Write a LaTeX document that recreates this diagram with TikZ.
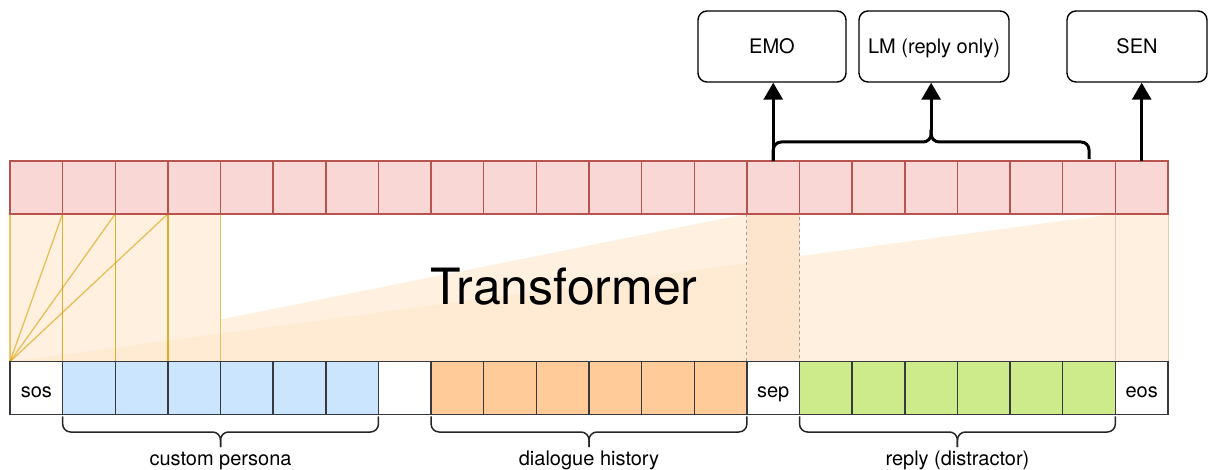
\documentclass[tikz,border=0pt]{standalone}
\usepackage{fontspec}
\setmainfont{TeX Gyre Heros}
\usetikzlibrary{arrows.meta,calc,backgrounds}
\definecolor{topfill}{HTML}{F8D7D5}
\definecolor{topdraw}{HTML}{B85450}
\definecolor{bluefill}{HTML}{CCE5FF}
\definecolor{orangefill}{HTML}{FFCC99}
\definecolor{greenfill}{HTML}{CDEB8B}
\definecolor{celldraw}{HTML}{36393D}
\definecolor{trfill}{HTML}{FFE6CC}
\definecolor{trline}{HTML}{D99E00}
\definecolor{sepfill}{HTML}{FDE4CC}
\definecolor{sepdraw}{HTML}{A8A098}
\definecolor{eosdraw}{HTML}{E6CCAE}
\newcommand\lblfont{\fontsize{20}{24}\selectfont}
\newcommand\bigfont{\fontsize{50}{60}\selectfont}
\tikzset{
  cell/.style={minimum width=52.636pt, minimum height=52.636pt, inner sep=0pt, outer sep=0pt,
    line width=1.5pt, font=\lblfont, text height=18pt, text depth=0pt},
  topcell/.style={cell, draw=topdraw, fill=topfill},
  wcell/.style={cell, draw=celldraw, fill=white},
  bluecell/.style={cell, draw=celldraw, fill=bluefill},
  orangecell/.style={cell, draw=celldraw, fill=orangefill},
  greencell/.style={cell, draw=celldraw, fill=greenfill},
  headbox/.style={draw=black, line width=1.4pt, rounded corners=9pt, minimum height=71pt,
    inner sep=0pt, font=\lblfont, text height=14pt, text depth=0pt},
  arr/.style={line width=3pt, -{Triangle[width=19pt,length=17pt]}},
  thickbrace/.style={line width=3pt, rounded corners=8pt},
  thinbrace/.style={line width=1.5pt, draw=black!85, rounded corners=8pt},
  braceLabel/.style={font=\lblfont, anchor=base, inner sep=0pt},
  trregion/.style={fill=trfill, fill opacity=0.6, draw=none},
  colline/.style={draw=trline, draw opacity=0.55, line width=1.5pt},
}
\begin{document}
\begin{tikzpicture}[x=1pt,y=-1pt]
\useasboundingbox (0,0) rectangle (1210,470);

% top output cells
\foreach \i in {0,...,21}
  \node[topcell] (t\i) at ({10+52.636*(\i+0.5)},187.5) {};

% bottom input cells
\node[wcell] (b0) at ({10+52.636*0.5},388) {sos};
\foreach \i in {1,...,6}
  \node[bluecell] (b\i) at ({10+52.636*(\i+0.5)},388) {};
\node[wcell] (b7) at ({10+52.636*7.5},388) {};
\foreach \i in {8,...,13}
  \node[orangecell] (b\i) at ({10+52.636*(\i+0.5)},388) {};
\node[wcell] (b14) at ({10+52.636*14.5},388) {sep};
\foreach \i in {15,...,20}
  \node[greencell] (b\i) at ({10+52.636*(\i+0.5)},388) {};
\node[wcell] (b21) at ({10+52.636*21.5},388) {eos};

% transformer body
\begin{scope}[on background layer]
  \fill[trregion] (b0.north west) -- (t13.south east) -- (b13.north east) -- cycle;
  \foreach \i in {0,...,3}
    \fill[fill=trfill!60] (t\i.south west) rectangle (b\i.north east);
  \fill[trregion] (b0.north west) -- (t20.south east) -- (b20.north east) -- cycle;
  \foreach \i in {0,...,3}
    \draw[colline] (t\i.south west) rectangle (b\i.north east);
  \foreach \i in {0,...,2}
    \draw[colline, draw opacity=0.6, line width=1.3pt] (b0.north west) -- (t\i.south east);
  \draw[fill=sepfill, draw=sepdraw, dashed, line width=0.9pt] (t14.south west) rectangle (b14.north east);
  \draw[trregion, draw=eosdraw, draw opacity=1, line width=0.9pt] (t21.south west) rectangle (b21.north east);
\end{scope}

\node[font=\bigfont, anchor=base, inner sep=0pt] (tr) at (564,305) {Transformer};

% heads
\node[headbox, minimum width=148pt] (emo) at (772,46.5) {EMO};
\node[headbox, minimum width=150pt] (lm) at (934,46.5) {LM (reply only)};
\node[headbox, minimum width=140pt] (sen) at (1137,46.5) {SEN};

% arrows and top brace
\draw[arr] (t14.north) -- (t14.north |- emo.south);
\draw[arr] (t21.north) -- (t21.north |- sen.south);
\coordinate (hl) at (0,142);
\coordinate (cy) at (0,130);
\coordinate (bl) at (t14.north);
\coordinate (br) at ($(t20.north)+(0,-2)$);
\coordinate (bm) at ($(bl)!0.5!(br)$);
\draw[thickbrace] (bl) -- (bl |- hl) -- (bm |- hl) -- (bm |- cy);
\draw[thickbrace] (br) -- (br |- hl) -- (bm |- hl) -- (bm |- cy);
\draw[arr] (bm |- cy) -- (bm |- lm.south);

% bottom braces
\coordinate (bh) at (0,432);
\coordinate (bt) at (0,447);
\coordinate (bb) at (0,465);
\foreach \a/\b/\n/\txt in {1/6/p/custom persona, 8/13/d/dialogue history, 15/20/r/reply (distractor)} {
  \coordinate (\n l) at ($(b\a.south west)+(0,2)$);
  \coordinate (\n r) at ($(b\b.south east)+(0,2)$);
  \coordinate (\n m) at ($(\n l)!0.5!(\n r)$);
  \draw[thinbrace] (\n l) -- (\n l |- bh) -- (\n m |- bh) -- (\n m |- bt);
  \draw[thinbrace] (\n r) -- (\n r |- bh) -- (\n m |- bh) -- (\n m |- bt);
  \node[braceLabel] (lab\n) at (\n m |- bb) {\txt};
}
\end{tikzpicture}
\end{document}
